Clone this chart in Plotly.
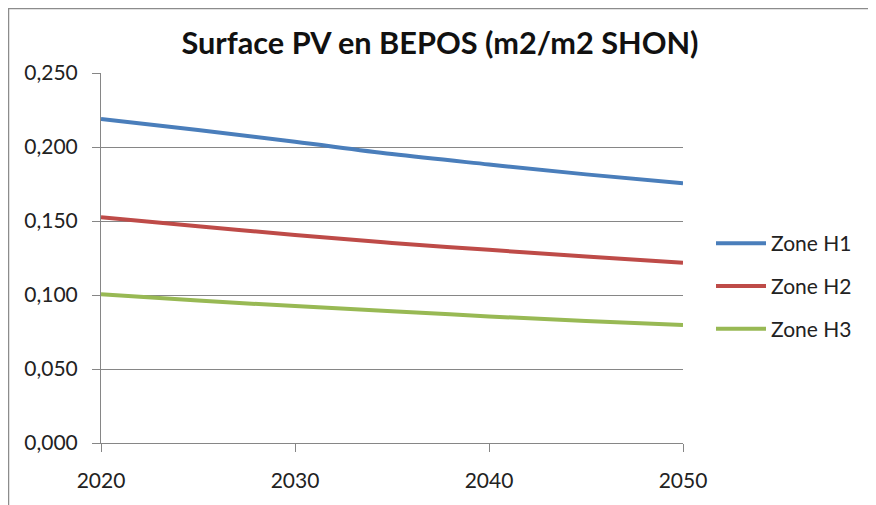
import plotly.graph_objects as go

years = [2020, 2025, 2030, 2035, 2040, 2045, 2050]
zone_h1 = [0.219, 0.2115, 0.2035, 0.1952, 0.1882, 0.1815, 0.1755]
zone_h2 = [0.1525, 0.1465, 0.1405, 0.1352, 0.1305, 0.1260, 0.1218]
zone_h3 = [0.1005, 0.0962, 0.0925, 0.0891, 0.0855, 0.0825, 0.0797]
series_names = ["Zone H1", "Zone H2", "Zone H3"]
colors = ["#4A7EBB", "#BE4B48", "#98B954"]
x_ticks = [2020, 2030, 2040, 2050]
y_ticks = [0.0, 0.05, 0.10, 0.15, 0.20, 0.25]

OFF = 8  # page body margin
W, H = 876 - OFF, 505 - OFF
L, R, T, B = 101 - OFF, 876 - 683, 73 - OFF, 505 - 443
pw, ph = W - L - R, H - T - B

FONT = "Lato"
fig = go.Figure()
for name, vals, c in zip(series_names, [zone_h1, zone_h2, zone_h3], colors):
    fig.add_trace(go.Scatter(x=years, y=vals, name=name, mode="lines",
                             line=dict(color=c, width=4, shape="spline"),
                             legendgroup=name))

def px_x(p):
    return (p - OFF - L) / pw

def px_y(p):
    return (H - B - (p - OFF)) / ph

fig.add_shape(type="rect", xref="paper", yref="paper",
              x0=px_x(8.5), x1=px_x(872), y0=px_y(520), y1=px_y(8.5),
              line=dict(color="#8c8c8c", width=1.5), fillcolor="white", layer="below")

fig.update_layout(
    width=W, height=H,
    margin=dict(l=L, r=R, t=T, b=B),
    paper_bgcolor="#ece9e2", plot_bgcolor="rgba(0,0,0,0)",
    separators=", ",
    font=dict(family=FONT, size=21, color="#222222"),
    title=dict(text="<b>Surface PV en BEPOS (m2/m2 SHON)</b>", x=0.5 - 2 / W, xref="container",
               y=1 - (43 - OFF) / H, yref="container", xanchor="center", yanchor="middle",
               font=dict(family=FONT, size=30.7, color="#111111")),
    showlegend=True,
    legend=dict(x=px_x(711), y=px_y(223), xanchor="left", yanchor="top",
                traceorder="grouped", tracegroupgap=12.5, itemwidth=50,
                font=dict(family=FONT, size=21, color="#222222"),
                bgcolor="rgba(0,0,0,0)"),
    xaxis=dict(range=[2020, 2050], tickvals=x_ticks, ticktext=[str(v) for v in x_ticks],
               showgrid=False, zeroline=False, showline=True, linecolor="#868686",
               linewidth=1, ticks="outside", ticklen=8, tickcolor="#868686",
               ticklabelstandoff=11,
               tickfont=dict(family=FONT, size=21, color="#222222")),
    yaxis=dict(range=[0, 0.25], tickvals=y_ticks, tickformat=".3f",
               showgrid=True, gridcolor="#868686", gridwidth=1, zeroline=False,
               showline=True, linecolor="#868686", linewidth=1,
               ticks="outside", ticklen=8, tickcolor="#868686",
               ticklabelstandoff=10,
               tickfont=dict(family=FONT, size=21, color="#222222")),
)
fig.write_html("out.html")
